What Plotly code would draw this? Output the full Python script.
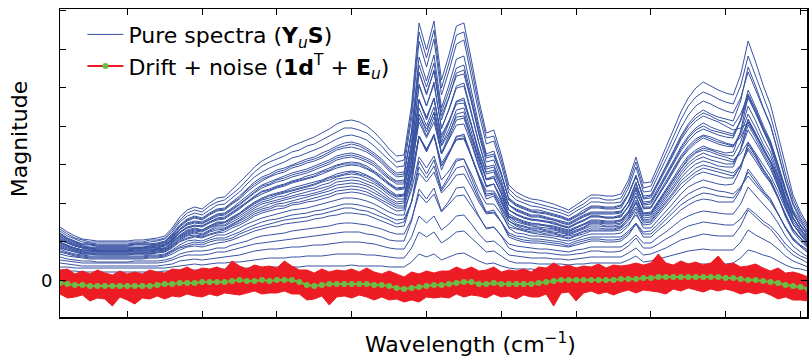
import plotly.graph_objects as go

# ---------------- data ----------------
wavelength = list(range(101))          # sample index along the wavelength axis

drift = [-3,-4,-5,-5,-6,-6,-6,-6,-6,-6,
         -6,-6,-6,-5,-4,-4,-3,-3,-3,-2,
         -2,-2,-2,-1,0,-1,-1,0,-1,0,
         0,0,-2,-5,-6,-5,-4,-4,-4,-4,
         -4,-4,-5,-5,-6,-8,-9,-8,-7,-6,
         -5,-5,-4,-3,-2,-2,-4,-4,-3,-4,
         -4,-4,-4,-4,-3,-2,-1,0,0,0,
         0,0,0,0,0,1,1,1,2,2,
         3,3,3,3,3,3,3,3,3,2,
         2,1,0,0,-1,-2,-3,-5,-6,-7,-9]

noise_upper = [13,15,11,14,12,16,13,11,15,12,
               14,12,16,13,11,15,13,16,12,14,
               13,15,12,20,14,12,16,13,15,12,
               19,14,12,15,13,16,12,14,13,15,
               12,16,13,11,15,14,12,16,13,15,
               12,14,13,16,12,15,13,14,16,12,
               14,13,15,12,16,14,18,13,15,12,
               14,13,16,12,15,13,14,16,13,15,
               23,14,12,16,13,15,12,14,21,13,
               15,12,14,16,13,11,15,12,14,13,12]

noise_lower = [-11,-14,-12,-10,-15,-12,-13,-20,-11,-14,
               -18,-12,-13,-11,-15,-12,-14,-11,-13,-15,
               -12,-14,-11,-13,-15,-12,-10,-14,-12,-13,
               -11,-14,-12,-15,-13,-11,-21,-13,-12,-14,
               -11,-13,-15,-12,-14,-11,-13,-12,-15,-11,
               -13,-12,-14,-11,-15,-13,-12,-14,-11,-13,
               -12,-15,-11,-13,-14,-12,-25,-13,-12,-21,
               -13,-11,-14,-12,-15,-13,-11,-14,-12,-13,
               -15,-17,-12,-14,-11,-13,-15,-12,-14,-11,
               -13,-15,-12,-14,-11,-13,-16,-12,-14,-13,-12]

s01 = [53,48,44,41,40,39,39,39,39,39,40,40,41,42,44,52,63,70,73,71,77,82,83,90,97,105,113,119,123,127,130,134,137,140,143,147,151,156,159,160,158,154,148,140,131,124,125,175,257,230,259,200,225,254,257,220,180,147,150,125,95,88,84,81,80,78,76,73,70,75,80,85,85,84,84,86,100,123,97,98,115,132,150,168,182,192,198,194,190,187,185,205,239,218,195,175,145,112,85,68,55]
s02 = [49,44,41,38,37,36,36,36,36,36,37,37,38,39,41,48,58,64,67,65,70,75,76,82,88,96,103,108,112,115,118,122,124,127,130,133,137,141,144,145,143,140,134,127,119,113,114,161,239,213,241,185,209,236,240,205,167,136,139,115,87,80,77,74,73,71,69,67,64,69,73,78,78,77,77,78,92,113,88,89,105,120,136,152,165,174,179,176,172,169,167,182,208,190,171,154,128,100,77,62,51]
s03 = [47,42,39,36,36,35,35,35,35,35,36,36,36,37,39,46,55,61,64,62,67,71,72,78,84,91,98,103,106,110,112,115,118,121,123,127,130,134,137,138,136,132,127,121,113,107,108,146,207,187,209,164,183,204,206,178,147,122,124,105,82,76,73,70,70,68,66,64,61,65,70,74,74,73,73,75,86,103,84,85,99,114,129,144,156,165,170,166,163,161,159,179,213,194,173,155,128,99,75,60,48]
s04 = [45,41,38,35,35,34,34,34,34,34,35,35,35,36,38,44,53,59,62,60,65,69,70,76,81,88,94,99,103,106,108,112,114,117,119,122,126,130,132,133,131,128,123,117,109,103,104,149,223,199,225,172,195,221,224,191,155,126,129,107,80,74,71,68,67,66,64,62,59,63,67,72,72,71,71,72,85,105,81,82,96,110,125,140,151,159,164,161,158,154,150,152,157,145,132,119,103,83,66,55,47]
s05 = [44,40,37,34,33,33,33,33,33,33,33,33,34,35,37,43,51,57,59,58,62,66,67,72,78,84,90,95,98,101,104,107,109,111,114,117,120,124,126,127,125,122,118,111,104,99,100,130,179,163,181,145,159,176,177,154,129,108,110,94,75,71,68,65,65,63,61,59,57,61,65,68,68,68,68,69,78,93,78,79,92,105,119,133,144,152,157,153,150,148,146,159,182,167,150,135,112,88,68,55,45]
s06 = [42,38,35,33,32,32,32,32,32,32,32,32,33,34,35,41,50,55,57,56,60,64,65,70,75,81,87,92,95,98,100,103,105,107,110,113,116,120,122,123,121,118,114,107,101,96,96,139,208,185,210,160,182,207,210,179,145,118,120,100,75,69,66,63,63,61,60,57,55,59,63,66,66,66,66,67,79,98,75,76,89,102,115,129,139,147,151,148,145,143,142,160,190,173,155,139,115,89,67,54,44]
s07 = [41,37,35,32,32,31,31,31,31,31,32,32,32,33,35,40,48,53,55,54,58,62,63,68,73,78,84,89,91,94,96,99,101,104,106,109,112,115,117,118,117,114,109,104,97,92,93,121,166,151,167,134,147,163,164,143,120,101,102,87,70,66,63,61,60,59,58,55,53,57,60,64,64,63,63,65,73,87,73,73,86,98,111,124,134,141,145,143,140,137,135,143,158,145,131,118,100,79,62,51,42]
s08 = [40,37,34,32,31,30,30,30,30,30,31,31,32,32,34,39,47,52,54,53,57,60,61,66,71,77,82,86,89,92,94,97,99,101,103,106,109,112,114,115,114,111,107,101,95,90,91,130,196,174,198,151,171,194,197,168,137,111,113,94,70,65,62,60,59,58,56,54,52,56,59,63,63,62,62,63,74,92,71,72,84,95,108,121,130,137,142,139,136,134,133,148,174,159,142,128,106,82,63,51,42]
s09 = [38,35,32,30,30,29,29,29,29,29,30,30,30,31,32,38,45,50,52,50,54,58,58,63,67,73,78,82,85,87,89,92,94,96,98,100,103,106,108,109,108,105,101,96,90,85,86,118,172,154,173,135,151,170,172,148,121,100,102,86,66,62,59,57,56,55,54,52,50,53,56,60,60,59,59,60,69,84,67,68,79,91,102,114,124,130,134,131,129,127,128,149,184,167,149,133,109,83,62,50,40]
s10 = [38,34,32,30,29,29,29,29,29,29,29,29,30,31,32,37,44,48,50,49,53,56,57,61,66,71,76,80,82,85,87,89,91,93,95,98,100,103,105,106,105,102,98,93,87,83,84,107,144,131,144,117,128,140,141,124,105,89,89,77,63,60,57,55,55,54,52,50,48,52,55,58,58,57,57,59,66,77,66,66,77,88,100,111,120,127,130,128,125,123,120,126,138,127,115,104,88,71,56,46,39]
s11 = [37,34,31,29,29,28,28,28,28,28,29,29,29,30,31,36,43,47,49,48,52,55,55,60,64,69,74,78,80,83,84,87,89,91,92,95,97,101,102,103,102,99,96,91,85,81,81,119,180,160,182,138,157,179,182,155,125,101,104,86,64,58,56,54,53,52,51,49,47,50,53,57,57,56,56,57,67,84,64,65,75,86,97,108,117,123,127,124,122,120,118,130,150,138,124,111,93,73,56,46,38]
s12 = [35,32,30,28,27,27,27,27,27,27,27,27,28,29,30,34,41,45,47,45,49,52,52,56,60,65,70,73,76,78,80,82,84,85,87,89,92,95,96,97,96,94,90,85,80,76,77,102,143,129,144,114,126,141,142,123,103,86,87,74,59,55,53,51,51,49,48,47,45,48,51,54,54,53,53,54,61,73,60,61,71,81,91,102,110,116,119,117,114,113,113,131,160,146,130,117,96,74,56,45,36]
s13 = [34,31,29,27,27,26,26,26,26,26,27,27,27,28,29,34,40,44,45,44,48,50,51,55,59,63,68,71,73,76,77,79,81,83,85,87,89,92,93,94,93,91,87,83,78,74,74,109,166,148,168,127,145,166,168,143,116,93,96,79,59,54,51,50,49,48,47,45,44,46,49,52,52,51,51,53,62,77,59,59,69,78,88,99,106,112,115,113,111,109,107,115,130,119,107,97,82,65,51,42,35]
s14 = [32,30,28,26,26,25,25,25,25,25,26,26,26,27,28,32,38,41,43,42,45,47,48,52,55,59,64,67,69,71,72,75,76,78,79,81,83,86,87,88,87,85,82,78,73,69,70,90,123,112,124,100,109,121,121,106,89,76,76,66,53,51,49,47,46,45,44,43,41,44,46,49,49,49,49,50,56,65,55,56,65,73,83,92,99,105,108,106,104,102,102,114,135,124,111,100,83,65,50,41,33]
s15 = [31,28,26,25,24,24,24,24,24,24,24,24,25,25,26,30,35,39,40,39,42,45,45,48,52,56,59,62,64,66,68,70,71,72,74,76,78,80,82,82,81,79,76,72,68,65,65,95,144,128,145,110,126,143,146,124,101,81,84,69,52,47,46,44,44,43,42,40,39,41,44,46,46,46,46,47,54,68,52,52,60,69,77,86,93,97,100,98,96,95,96,111,137,125,111,100,83,63,48,39,32]
s16 = [29,27,25,24,23,23,23,23,23,23,23,23,24,24,25,29,33,36,38,37,40,42,42,45,48,52,55,58,60,61,63,65,66,67,69,70,72,74,76,76,75,73,71,67,63,60,61,78,107,98,108,87,95,105,106,93,78,66,67,58,47,44,43,41,41,40,39,38,36,39,41,43,43,43,43,43,49,57,48,49,56,64,72,80,86,90,93,91,89,88,86,93,104,95,86,78,66,53,42,35,30]
s17 = [26,24,23,22,21,21,21,21,21,21,21,21,22,22,23,26,30,33,34,33,35,37,38,40,43,46,49,51,53,54,56,57,58,59,61,62,64,65,67,67,66,65,62,59,56,53,54,78,119,106,120,91,104,119,121,103,84,68,70,58,43,40,38,37,37,36,35,34,33,35,37,39,39,38,38,39,45,56,43,43,50,56,63,70,75,79,81,80,78,78,78,90,111,101,90,81,67,52,40,33,27]
s18 = [23,21,20,19,19,18,18,18,18,18,19,19,19,19,20,22,26,28,29,29,30,32,32,35,37,39,42,44,45,46,47,49,50,51,52,53,54,56,57,57,56,55,53,51,48,46,46,61,86,77,86,68,76,84,85,74,62,52,53,45,36,34,33,32,31,31,30,29,28,30,31,33,33,33,33,33,38,45,37,37,43,48,54,60,64,67,69,68,67,66,66,76,93,84,76,68,57,44,34,28,23]
s19 = [20,19,18,17,17,17,17,17,17,17,17,17,17,17,18,20,23,25,25,25,26,28,28,30,32,34,36,37,38,39,40,41,42,43,44,45,46,47,48,48,48,46,45,43,40,39,39,59,91,81,92,69,79,92,93,79,64,51,53,44,32,29,28,28,27,27,26,25,25,26,27,29,29,28,28,29,34,42,32,32,36,41,45,50,54,56,58,57,56,55,55,61,72,66,59,54,46,36,29,24,21]
s20 = [17,16,15,14,14,14,14,14,14,14,14,14,14,14,15,16,19,20,21,20,21,22,23,24,25,27,29,30,31,31,32,33,33,34,35,35,36,37,38,38,38,37,36,34,32,31,31,43,64,57,64,50,56,64,65,56,46,38,39,33,25,24,23,22,22,22,21,21,20,21,22,23,23,23,23,23,27,32,25,26,29,32,36,40,42,44,46,45,44,44,44,54,70,63,56,51,42,32,25,21,17]
s21 = [13,13,12,12,12,12,12,12,12,12,12,12,12,12,12,13,14,15,16,15,16,17,17,18,18,19,20,21,22,22,22,23,23,24,24,24,25,26,26,26,26,25,25,24,23,22,22,32,48,43,48,37,42,48,49,42,34,28,29,24,19,17,17,17,16,16,16,16,15,16,16,17,17,17,17,17,20,24,18,19,21,23,25,27,29,30,31,30,30,30,30,38,50,45,41,37,31,24,19,16,13]
s22 = [9,9,9,8,8,8,8,8,8,8,8,8,8,8,9,9,10,10,10,10,10,11,11,11,11,12,12,12,13,13,13,13,13,14,14,14,14,14,14,15,14,14,14,14,13,13,13,18,26,23,26,20,23,26,27,23,19,16,17,14,12,11,11,11,10,10,10,10,10,10,10,11,11,11,11,11,12,14,11,11,12,13,14,15,16,16,16,16,16,16,17,22,30,28,25,23,19,15,12,11,9]
s23 = [51,46,42,40,38,38,38,38,38,38,38,38,40,40,42,50,60,67,70,68,74,78,80,86,92,100,108,114,118,121,124,128,130,134,136,140,144,148,152,152,150,147,141,134,125,118,120,168,248,222,250,192,217,245,248,212,174,142,144,120,91,84,80,78,76,74,72,70,67,72,76,82,82,80,80,82,96,118,92,94,110,126,143,160,174,183,188,185,181,178,176,194,224,204,183,164,136,106,81,65,53]
s24 = [46,42,38,36,36,34,34,34,34,34,36,36,36,36,38,45,54,60,63,61,66,70,71,77,82,90,96,101,104,108,110,114,116,119,121,124,128,132,134,136,134,130,125,119,111,105,106,148,215,193,217,168,189,212,215,184,151,124,126,106,81,75,72,69,68,67,65,63,60,64,68,73,73,72,72,74,86,104,82,84,98,112,127,142,154,162,167,164,160,158,154,166,185,170,152,137,116,91,70,58,48]
s25 = [43,39,36,34,32,32,32,32,32,32,32,32,34,34,36,42,50,56,58,57,61,65,66,71,76,82,88,94,96,100,102,105,107,109,112,115,118,122,124,125,123,120,116,109,102,98,98,134,194,174,196,152,170,192,194,166,137,113,115,97,75,70,67,64,64,62,60,58,56,60,64,67,67,67,67,68,78,96,76,78,90,104,117,131,142,150,154,150,148,146,144,160,186,170,152,137,114,88,68,54,44]
s26 = [40,37,34,32,32,30,30,30,30,30,32,32,32,32,34,40,48,52,54,54,58,61,62,67,72,78,83,88,90,93,95,98,100,102,104,108,110,114,116,116,116,112,108,102,96,91,92,126,181,162,182,142,159,178,180,156,128,106,108,90,70,66,62,60,60,58,57,54,52,56,60,64,64,62,62,64,74,90,72,72,85,96,110,122,132,139,144,141,138,136,134,146,166,152,136,123,103,80,62,51,42]
s27 = [38,34,32,30,30,29,29,29,29,29,30,30,30,31,32,38,44,49,51,50,54,57,58,62,66,72,77,81,84,86,88,90,92,94,96,99,102,104,106,108,106,104,100,94,88,84,85,112,158,142,158,126,140,155,156,136,113,94,96,82,64,61,58,56,56,54,53,51,49,52,56,59,59,58,58,60,68,80,66,67,78,90,101,112,122,128,132,130,127,125,124,138,161,147,132,118,98,77,59,48,40]
s28 = [36,33,30,28,28,28,28,28,28,28,28,28,28,30,30,35,42,46,48,46,50,54,54,58,62,67,72,76,78,80,82,84,86,88,90,92,94,98,99,100,99,96,93,88,82,78,79,110,162,144,163,126,142,160,162,139,114,94,96,80,62,56,54,52,52,50,50,48,46,49,52,56,56,54,54,56,64,78,62,63,73,84,94,105,114,120,123,120,118,116,116,130,155,142,127,114,94,74,56,46,37]
s29 = [33,30,28,26,26,26,26,26,26,26,26,26,26,28,28,33,39,42,44,43,46,48,50,54,57,61,66,69,71,74,74,77,78,80,82,84,86,89,90,91,90,88,84,80,76,72,72,100,144,130,146,114,127,144,144,124,102,84,86,72,56,52,50,48,48,46,46,44,42,45,48,50,50,50,50,52,59,71,57,58,67,76,86,96,102,108,112,110,108,106,104,114,132,122,109,98,82,65,50,42,34]
s30 = [28,26,24,23,22,22,22,22,22,22,22,22,23,23,24,28,32,34,36,35,38,40,40,42,46,49,52,54,56,58,60,61,62,63,65,66,68,70,72,72,70,69,66,63,60,56,58,78,113,102,114,89,100,112,114,98,81,67,68,58,45,42,40,39,39,38,37,36,34,37,39,41,41,40,40,41,47,56,46,46,53,60,68,75,80,84,87,86,84,83,82,92,108,98,88,80,66,52,41,34,28]

pure_spectra = [s01, s02, s03, s04, s05, s06, s07, s08, s09, s10,
                s11, s12, s13, s14, s15, s16, s17, s18, s19, s20,
                s21, s22, s23, s24, s25, s26, s27, s28, s29, s30]

x_ticks = [9, 19, 29, 39, 49, 59, 69, 79, 89, 99]
y_ticks = [0, 38.5, 77, 115.5, 154, 192.5, 231, 269.5]
zero_label = "0"

legend_pure = "Pure spectra (<b>Y</b><sub><i>u</i></sub><b>S</b>)"
legend_drift = "Drift + noise (<b>1d</b><sup>T</sup> + <b>E</b><sub><i>u</i></sub>)"

# ---------------- styling ----------------
BLUE = "rgb(57,83,163)"
RED = "rgb(237,28,36)"
GREEN = "rgb(106,189,69)"
FONT = "DejaVu Sans, Verdana, sans-serif"

fig = go.Figure()

for k, spec in enumerate(pure_spectra):
    fig.add_trace(go.Scatter(
        x=wavelength, y=spec, mode="lines",
        line=dict(color=BLUE, width=1),
        name=legend_pure, showlegend=(k == 0), hoverinfo="skip"))

band_hi = [d + u for d, u in zip(drift, noise_upper)]
band_lo = [d + l for d, l in zip(drift, noise_lower)]

fig.add_trace(go.Scatter(x=wavelength, y=band_hi, mode="lines",
                         line=dict(color=RED, width=1), showlegend=False,
                         hoverinfo="skip"))
fig.add_trace(go.Scatter(x=wavelength, y=band_lo, mode="lines",
                         line=dict(color=RED, width=1), fill="tonexty",
                         fillcolor=RED, showlegend=False, hoverinfo="skip"))
fig.add_trace(go.Scatter(x=wavelength, y=drift, mode="lines+markers",
                         line=dict(color=GREEN, width=2),
                         marker=dict(color=GREEN, size=6),
                         showlegend=False, hoverinfo="skip"))
# legend entry for drift + noise (red line, green dots)
fig.add_trace(go.Scatter(x=[None], y=[None], mode="lines+markers",
                         line=dict(color=RED, width=2),
                         marker=dict(color=GREEN, size=6),
                         name=legend_drift))

fig.update_layout(
    width=809, height=358,
    margin=dict(l=60, r=0, t=9, b=41),
    paper_bgcolor="white", plot_bgcolor="white",
    font=dict(family=FONT, color="black"),
    showlegend=True,
    hovermode=False,
    legend=dict(x=0.030, y=0.985, xanchor="left", yanchor="top",
                traceorder="normal",
                bgcolor="rgba(0,0,0,0)", font=dict(size=22, family=FONT),
                itemwidth=36, tracegroupgap=0),
    annotations=[
        dict(text="Magnitude", xref="paper", yref="paper",
             x=-0.055, y=0.58, xanchor="center", yanchor="middle",
             textangle=-90, showarrow=False, font=dict(size=22, family=FONT)),
        dict(text="Wavelength (cm<sup>\u22121</sup>)", xref="paper", yref="paper",
             x=0.549, y=-0.085, xanchor="center", yanchor="middle",
             showarrow=False, font=dict(size=22, family=FONT)),
        dict(text=zero_label, xref="paper", yref="y",
             x=-0.008, y=0, xanchor="right", yanchor="middle",
             showarrow=False, font=dict(size=18, family=FONT)),
    ],
)

fig.update_xaxes(range=[0, 99.87], showline=True, linecolor="black", linewidth=1.5,
                 mirror="ticks", ticks="inside", ticklen=6, tickcolor="black",
                 tickvals=x_ticks, showticklabels=False, showgrid=False,
                 zeroline=False)
fig.update_yaxes(range=[-37, 271], showline=True, linecolor="black", linewidth=1.5,
                 mirror="ticks", ticks="inside", ticklen=6, tickcolor="black",
                 tickvals=y_ticks, showticklabels=False,
                 showgrid=False, zeroline=False)

fig.write_html("out.html",
               config={"displayModeBar": False, "staticPlot": True},
               post_script="document.body.style.margin='0px';document.body.style.overflow='hidden';")
